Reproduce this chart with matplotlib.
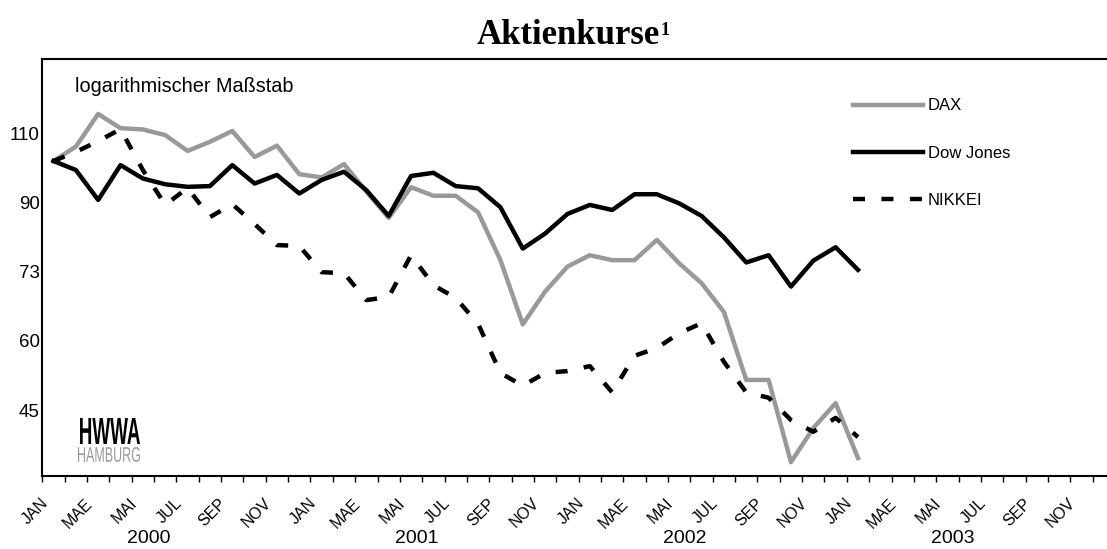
import numpy as np
import matplotlib
matplotlib.use('Agg')
import matplotlib.pyplot as plt
from matplotlib.ticker import NullLocator, NullFormatter
from matplotlib.textpath import TextPath
from matplotlib.patches import PathPatch
from matplotlib.font_manager import FontProperties
from matplotlib.transforms import Affine2D, ScaledTranslation

plt.rcParams['font.family'] = ['Liberation Sans', 'DejaVu Sans']

# monthly index levels, Jan 2000 - Jan 2003
dax = [101.5, 105.8, 116.3, 111.6, 111.2, 109.4, 104.5, 107.3, 110.7, 102.7, 106.1, 97.7,
       96.8, 100.6, 92.9, 86.1, 94.1, 91.8, 91.8, 87.5, 76.2, 63.3, 69.6, 74.8,
       77.3, 76.2, 76.2, 80.8, 75.5, 71.3, 65.6, 53.9, 53.9, 42.5, 46.9, 50.4, 43.0]
dow = [101.5, 98.9, 90.7, 100.3, 96.5, 94.9, 94.2, 94.4, 100.3, 95.1, 97.5, 92.4,
       96.1, 98.4, 93.3, 86.6, 97.2, 98.1, 94.4, 93.8, 88.8, 78.8, 82.3, 87.1,
       89.4, 88.1, 92.2, 92.2, 89.8, 86.6, 81.4, 75.7, 77.3, 70.6, 76.1, 79.1, 74.1]
nikkei = [101.5, 104.2, 107.5, 111.3, 98.9, 89.4, 93.9, 86.3, 89.6, 84.6, 79.6, 79.4,
          73.6, 73.4, 67.9, 68.5, 77.3, 70.9, 68.3, 63.4, 55.0, 53.0, 55.0, 55.3,
          56.1, 52.0, 57.8, 59.1, 61.7, 63.5, 56.8, 52.0, 51.2, 48.0, 46.4, 48.3, 45.7]

series_names = ['DAX', 'Dow Jones', 'NIKKEI']
month_labels = ['JAN', 'MAE', 'MAI', 'JUL', 'SEP', 'NOV']
year_labels = ['2000', '2001', '2002', '2003']
ytick_vals = [109.95, 90.02, 73.70, 60.34, 49.40]
ytick_labels = ['110', '90', '73', '60', '45']

W, H = 1107, 549
fig = plt.figure(figsize=(W / 100, H / 100), dpi=100)
ax = fig.add_axes([42.3 / W, 1 - 476 / H, (1115 - 42.3) / W, (476 - 59.3) / H])

x = np.arange(len(dax)) + 0.5
ax.plot(x, dax, color='#999999', linewidth=3.2, label=series_names[0])
ax.plot(x, dow, color='black', linewidth=3.2, label=series_names[1])
ax.plot(x, nikkei, color='black', linewidth=3.2, linestyle=(0, (2.7, 3.7)), label=series_names[2])

ax.set_yscale('log')
ax.set_ylim(40.83, 136.2)
ax.set_xlim(0, 48)
ax.set_yticks(ytick_vals)
ax.set_yticklabels(ytick_labels)
ax.yaxis.set_minor_locator(NullLocator())
ax.yaxis.set_minor_formatter(NullFormatter())
ax.tick_params(axis='y', length=0, pad=2, labelsize=13.5)

ax.set_xticks(np.arange(0, 48, 2))
ax.set_xticklabels(month_labels * 4, rotation=45, ha='right', va='center',
                   rotation_mode='anchor', fontsize=11.5)
ax.set_xticks(np.arange(1, 48, 2), minor=True)
ax.tick_params(axis='x', which='both', length=4, width=1, direction='out', pad=14)
shift = ScaledTranslation(3 / 100, 0, fig.dpi_scale_trans)
for lab in ax.get_xticklabels():
    lab.set_transform(lab.get_transform() + shift)

for sp in ax.spines.values():
    sp.set_linewidth(1.5)

for i, yr in enumerate(year_labels):
    ax.text(12 * i + 4.75, -0.149, yr, transform=ax.get_xaxis_transform(),
            ha='center', va='center', fontsize=14)

ax.legend(frameon=False, fontsize=12, handlelength=4.2, handletextpad=0.3,
          labelspacing=1.93, loc='upper left', borderpad=0, borderaxespad=0,
          bbox_to_anchor=(853 / W, 1 - 98.5 / H), bbox_transform=fig.transFigure)

fig.text(75 / W, 1 - 86 / H, 'logarithmischer Maßstab', va='center', fontsize=14.3)

title = fig.text(568 / W, 1 - 36 / H, 'Aktienkurse', ha='center', va='center',
                 family='Liberation Serif', weight='bold', fontsize=25)
ax.annotate('1', xy=(1, 1), xycoords=title, xytext=(0.5, -2), textcoords='offset points',
            ha='left', va='top', family='Liberation Serif', weight='bold', fontsize=13)


def logo_text(s, x0, y0, x1, y1, color, weight):
    prop = FontProperties(family=['Liberation Sans Narrow', 'Liberation Sans'], weight=weight)
    tp = TextPath((0, 0), s, size=10, prop=prop)
    bb = tp.get_extents()
    tr = (Affine2D().translate(-bb.x0, -bb.y0)
          .scale((x1 - x0) / W / bb.width, (y1 - y0) / H / bb.height)
          .translate(x0 / W, 1 - y1 / H))
    fig.add_artist(PathPatch(tr.transform_path(tp), transform=fig.transFigure,
                             facecolor=color, edgecolor='none'))


logo_text('HWWA', 80, 418, 140, 444, 'black', 'bold')
logo_text('HAMBURG', 78, 447, 140, 462, '#9a9a9a', 'normal')

fig.savefig('out.png', dpi=100)
